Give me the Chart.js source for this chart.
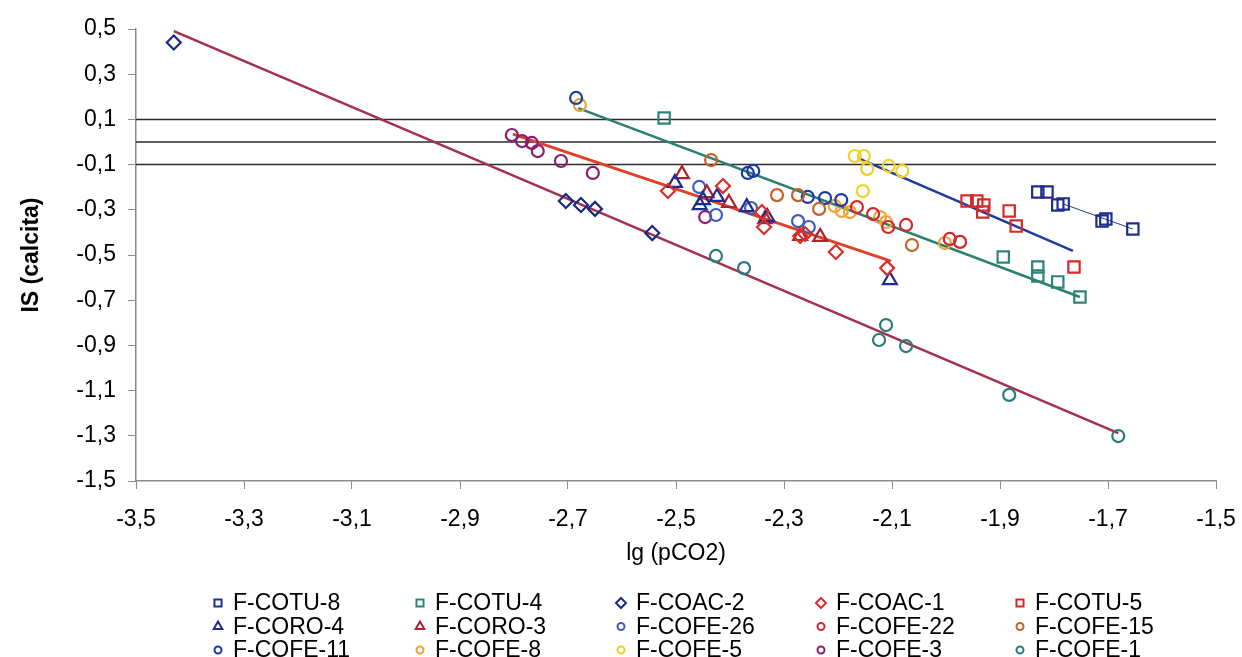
<!DOCTYPE html>
<html lang="es">
<head>
    <meta charset="UTF-8">
    <title>IS (calcita) vs lg (pCO2)</title>
    <script src="https://cdn.jsdelivr.net/npm/chart.js"></script>
    <style>
        body {
            margin: 0;
            background: #ffffff;
        }
        #wrap {
            width: 1242px;
            height: 657px;
        }
    </style>
</head>
<body>
    <div id="wrap"><canvas id="isChart" width="1242" height="657"></canvas></div>

    <script>
        // ejes
        const xTicks = [-3.5, -3.3, -3.1, -2.9, -2.7, -2.5, -2.3, -2.1, -1.9, -1.7, -1.5];
        const yTicks = [0.5, 0.3, 0.1, -0.1, -0.3, -0.5, -0.7, -0.9, -1.1, -1.3, -1.5];
        const refLevels = [0.1, 0, -0.1];

        // puntos [lg pCO2, IS]
        const fCotu8 = [[-1.830, -0.221], [-1.813, -0.221], [-1.793, -0.279], [-1.783, -0.274], [-1.711, -0.350], [-1.704, -0.341], [-1.654, -0.385]];
        const fCotu4 = [[-2.522, 0.106], [-1.894, -0.509], [-1.830, -0.553], [-1.830, -0.593], [-1.793, -0.619], [-1.752, -0.686]];
        const fCoac2 = [[-3.430, 0.440], [-2.704, -0.261], [-2.676, -0.279], [-2.650, -0.296], [-2.544, -0.403]];
        const fCoac1 = [[-2.515, -0.217], [-2.413, -0.195], [-2.341, -0.310], [-2.337, -0.376], [-2.270, -0.416], [-2.261, -0.407], [-2.204, -0.487], [-2.109, -0.558]];
        const fCotu5 = [[-1.961, -0.261], [-1.943, -0.261], [-1.930, -0.279], [-1.932, -0.310], [-1.883, -0.305], [-1.870, -0.372], [-1.763, -0.553]];
        const fCoro4 = [[-2.502, -0.181], [-2.456, -0.279], [-2.450, -0.257], [-2.424, -0.243], [-2.369, -0.288], [-2.331, -0.332], [-2.104, -0.611]];
        const fCoro3 = [[-2.489, -0.142], [-2.443, -0.226], [-2.402, -0.270], [-2.335, -0.341], [-2.270, -0.416], [-2.233, -0.420]];
        const fCofe26 = [[-2.457, -0.199], [-2.426, -0.323], [-2.361, -0.292], [-2.274, -0.350], [-2.254, -0.376]];
        const fCofe22 = [[-2.165, -0.288], [-2.135, -0.319], [-2.107, -0.376], [-2.074, -0.367], [-1.993, -0.429], [-1.974, -0.442]];
        const fCofe15 = [[-2.435, -0.080], [-2.313, -0.235], [-2.274, -0.235], [-2.235, -0.296], [-2.063, -0.456]];
        const fCofe11 = [[-2.685, 0.195], [-2.367, -0.137], [-2.357, -0.128], [-2.256, -0.243], [-2.224, -0.248], [-2.194, -0.257]];
        const fCofe8 = [[-2.678, 0.164], [-2.206, -0.283], [-2.193, -0.305], [-2.178, -0.310], [-2.122, -0.332], [-2.111, -0.354], [-2.002, -0.447]];
        const fCofe5 = [[-2.169, -0.062], [-2.152, -0.062], [-2.146, -0.119], [-2.154, -0.217], [-2.106, -0.106], [-2.081, -0.128]];
        const fCofe3 = [[-2.804, 0.031], [-2.785, 0.004], [-2.767, -0.004], [-2.756, -0.040], [-2.713, -0.084], [-2.654, -0.137], [-2.446, -0.332]];
        const fCofe1 = [[-2.426, -0.504], [-2.374, -0.558], [-2.111, -0.810], [-2.124, -0.876], [-2.074, -0.903], [-1.883, -1.119], [-1.681, -1.301]];

        // rectas de tendencia (extremos)
        const trendPurple = [[-3.430, 0.491], [-1.681, -1.288]];
        const trendRed = [[-2.802, 0.035], [-2.102, -0.527]];
        const trendTeal = [[-2.681, 0.150], [-1.752, -0.686]];
        const trendBlue = [[-2.163, -0.071], [-1.765, -0.482]];
        const trendCotu8 = [[-1.783, -0.274], [-1.654, -0.385]];

        const FONT = '"Liberation Sans", Arial, sans-serif';
        const toXY = arr => arr.map(p => ({ x: p[0], y: p[1] }));
        const fmt = v => Number(v).toFixed(1).replace('.', ',');

        function series(label, data, color, style, radius) {
            return {
                label, data: toXY(data), showLine: false,
                pointStyle: style, pointRadius: radius,
                borderColor: color, backgroundColor: 'rgba(0,0,0,0)',
                pointBorderWidth: 2.2, inLegend: true
            };
        }

        function line(data, color, width) {
            return {
                label: '', data: toXY(data), showLine: true,
                borderColor: color, borderWidth: width,
                pointRadius: 0, backgroundColor: 'rgba(0,0,0,0)'
            };
        }

        const datasets = [
            series('F-COTU-8', fCotu8, '#1f2e8a', 'rect', 8),
            series('F-COTU-4', fCotu4, '#2a8678', 'rect', 8),
            series('F-COAC-2', fCoac2, '#1a2a82', 'rectRot', 7),
            series('F-COAC-1', fCoac1, '#d8302a', 'rectRot', 7),
            series('F-COTU-5', fCotu5, '#d62a2a', 'rect', 8),
            series('F-CORO-4', fCoro4, '#1c2c92', 'triangle', 8),
            series('F-CORO-3', fCoro3, '#b0222a', 'triangle', 8),
            series('F-COFE-26', fCofe26, '#3d5cc0', 'circle', 6),
            series('F-COFE-22', fCofe22, '#d4262e', 'circle', 6),
            series('F-COFE-15', fCofe15, '#c8602a', 'circle', 6),
            series('F-COFE-11', fCofe11, '#1c3aa6', 'circle', 6),
            series('F-COFE-8', fCofe8, '#f2a132', 'circle', 6),
            series('F-COFE-5', fCofe5, '#f0d226', 'circle', 6),
            series('F-COFE-3', fCofe3, '#8c1c6e', 'circle', 6),
            series('F-COFE-1', fCofe1, '#2a7a80', 'circle', 6),
            line(trendCotu8, '#2a3a86', 1),
            line(trendBlue, '#1c3aa0', 2.5),
            line(trendTeal, '#2a8070', 2.5),
            line(trendRed, '#e0402a', 2.8),
            line(trendPurple, '#a4304c', 2.5)
        ];
        refLevels.forEach(v => {
            datasets.push(line([[xTicks[0], v], [xTicks[xTicks.length - 1], v]], '#2a2a2a', 1.5));
        });

        // leyenda en 5 columnas
        const gridLegend = {
            id: 'gridLegend',
            afterDraw(chart) {
                const ctx = chart.ctx;
                const items = chart.data.datasets.filter(d => d.inLegend);
                const colX = [218, 420, 621, 821, 1020];
                ctx.save();
                ctx.font = '23px ' + FONT;
                ctx.textBaseline = 'middle';
                items.forEach((d, i) => {
                    const mx = colX[i % 5];
                    const my = 603 + Math.floor(i / 5) * 23.5;
                    ctx.strokeStyle = d.borderColor;
                    ctx.fillStyle = 'rgba(0,0,0,0)';
                    ctx.lineWidth = 2;
                    const r = d.pointStyle === 'circle' ? 3.5 : 5;
                    Chart.helpers.drawPoint(ctx, { pointStyle: d.pointStyle, radius: r, borderWidth: 2, rotation: 0 }, mx, my);
                    ctx.fillStyle = '#000';
                    ctx.fillText(d.label, mx + 15, my + 1);
                });
                ctx.restore();
            }
        };

        new Chart(document.getElementById('isChart'), {
            type: 'scatter',
            data: { datasets },
            options: {
                responsive: false,
                animation: false,
                layout: { padding: { left: 0, right: 26, top: 29, bottom: 90 } },
                plugins: {
                    legend: { display: false },
                    tooltip: { enabled: false }
                },
                scales: {
                    x: {
                        type: 'linear',
                        min: -3.5,
                        max: -1.5,
                        afterBuildTicks: s => { s.ticks = xTicks.map(v => ({ value: v })); },
                        afterFit: s => { s.height = 86; s.paddingLeft = 0; s.paddingRight = 0; },
                        border: { display: true, color: '#8a8a8a', width: 1.5 },
                        grid: { drawOnChartArea: false, drawTicks: true, tickLength: 8, color: '#8a8a8a' },
                        ticks: {
                            color: '#000', padding: 17,
                            font: { family: FONT, size: 23 },
                            callback: v => fmt(v)
                        },
                        title: {
                            display: true, text: 'lg (pCO2)', color: '#000',
                            font: { family: FONT, size: 23 },
                            padding: { top: 6, bottom: 0 }
                        }
                    },
                    y: {
                        type: 'linear',
                        min: -1.5,
                        max: 0.5,
                        afterBuildTicks: s => { s.ticks = yTicks.map(v => ({ value: v })); },
                        afterFit: s => { s.width = 136; },
                        border: { display: true, color: '#8a8a8a', width: 1.5 },
                        grid: { drawOnChartArea: false, drawTicks: true, tickLength: 8, color: '#8a8a8a' },
                        ticks: {
                            color: '#000', padding: 12,
                            font: { family: FONT, size: 23 },
                            callback: v => fmt(v)
                        },
                        title: {
                            display: true, text: 'IS (calcita)', color: '#000',
                            font: { family: FONT, size: 23, weight: 'bold' },
                            padding: { top: 18, bottom: 0 }
                        }
                    }
                }
            },
            plugins: [gridLegend]
        });
    </script>
</body>
</html>
